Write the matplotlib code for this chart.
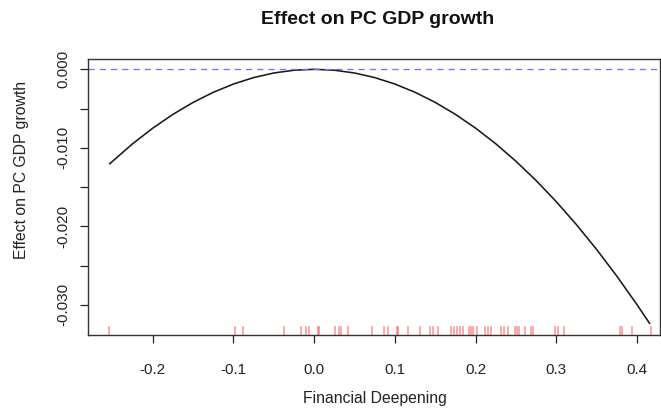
import numpy as np
import matplotlib.pyplot as plt

plt.rcParams['font.family'] = ['Liberation Sans', 'DejaVu Sans']

# fitted effect curve
deepening = [-0.254, -0.225, -0.200, -0.175, -0.150, -0.125, -0.100, -0.075,
             -0.050, -0.025, 0.000, 0.025, 0.050, 0.075, 0.100, 0.125, 0.150,
             0.175, 0.200, 0.225, 0.250, 0.275, 0.300, 0.325, 0.350, 0.375,
             0.400, 0.416]
effect = [-0.012097, -0.009492, -0.007500, -0.005742, -0.004219, -0.002930,
          -0.001875, -0.001055, -0.000469, -0.000117, 0.000000, -0.000117,
          -0.000469, -0.001055, -0.001875, -0.002930, -0.004219, -0.005742,
          -0.007500, -0.009492, -0.011719, -0.014180, -0.016875, -0.019805,
          -0.022969, -0.026367, -0.030000, -0.032448]

# observed values shown as rug
rug_x = [-0.254, -0.098, -0.088, -0.037, -0.016, -0.010, -0.007, 0.005, 0.006,
         0.026, 0.031, 0.033, 0.042, 0.072, 0.087, 0.092, 0.102, 0.104, 0.116,
         0.131, 0.144, 0.147, 0.153, 0.170, 0.173, 0.177, 0.181, 0.184, 0.192,
         0.194, 0.197, 0.202, 0.212, 0.215, 0.219, 0.231, 0.235, 0.240, 0.249,
         0.251, 0.254, 0.261, 0.269, 0.271, 0.298, 0.302, 0.310, 0.379, 0.381,
         0.394, 0.417]

x_ticks = [-0.2, -0.1, 0.0, 0.1, 0.2, 0.3, 0.4]
x_labels = ['-0.2', '-0.1', '0.0', '0.1', '0.2', '0.3', '0.4']
y_ticks = [0.0, -0.005, -0.010, -0.015, -0.020, -0.025, -0.030]
y_labels = ['0.000', '', '-0.010', '', '-0.020', '', '-0.030']

fig = plt.figure(figsize=(6.61, 4.13), dpi=100)
ax = fig.add_axes([0.1336, 0.1889, 0.8649, 0.6675])

ax.plot(deepening, effect, color='#1a1a1a', lw=1.15, solid_capstyle='butt',
        solid_joinstyle='round')
ax.axhline(0, color='#6f6fff', lw=0.9, dashes=(5, 4))
for xv in rug_x:
    ax.axvline(xv, ymin=0, ymax=0.03, color='red', alpha=0.4, lw=1.2)

ax.set_xlim(-0.2798, 0.4284)
ax.set_ylim(-0.03385, 0.001274)

ax.set_xticks(x_ticks)
ax.set_xticklabels(x_labels)
ax.set_yticks(y_ticks)
ax.set_yticklabels(y_labels, rotation=90, va='center')
ax.tick_params(axis='both', direction='out', length=6, width=0.9,
               labelsize=11, colors='#222222')
ax.tick_params(axis='x', pad=14)
ax.tick_params(axis='y', pad=7)
for s in ax.spines.values():
    s.set_linewidth(1.0)
    s.set_color('#333333')

fig.text(378 / 661, 1 - 20 / 413, 'Effect on PC GDP growth', ha='center',
         va='center', fontsize=14, fontweight='bold', color='#111111')
fig.text(375 / 661, 1 - 398 / 413, 'Financial Deepening', ha='center',
         va='center', fontsize=11.3, color='#222222')
fig.text(22 / 661, 1 - 170 / 413, 'Effect on PC GDP growth', ha='center',
         va='center', rotation=90, fontsize=11.3, color='#222222')

fig.savefig('out.png', dpi=100)
